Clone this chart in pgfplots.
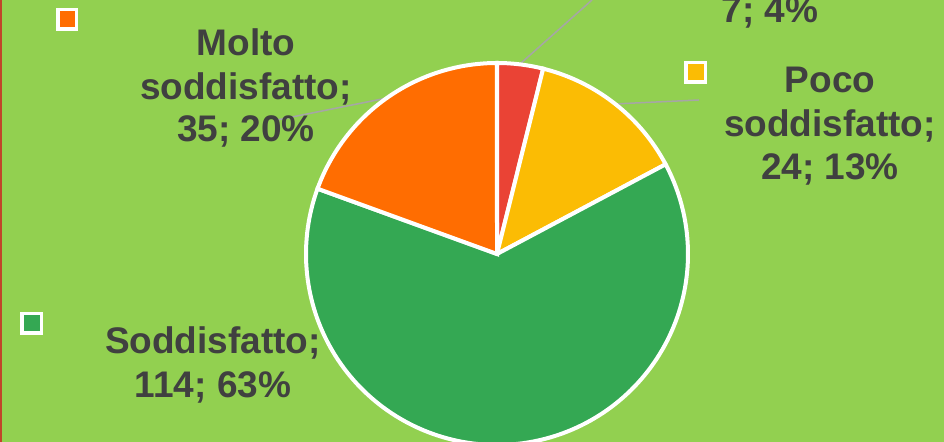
\documentclass[border=0pt]{standalone}
\usepackage{pgfplots}
\pgfplotsset{compat=1.18}
\usepackage{fontspec}
\setmainfont{Liberation Sans}
\definecolor{bggreen}{HTML}{92D050}
\definecolor{sred}{HTML}{EA4335}
\definecolor{syellow}{HTML}{FBBC04}
\definecolor{sgreen}{HTML}{34A853}
\definecolor{sorange}{HTML}{FF6D01}
\definecolor{txt}{HTML}{404040}
\definecolor{leader}{HTML}{A6A6A6}
\definecolor{frame}{HTML}{C0452A}
\tikzset{lbl/.style={font=\fontsize{18.5pt}{22pt}\selectfont\bfseries, text=txt, anchor=base, inner sep=0pt}}
% values
\def\vA{7}\def\vB{24}\def\vC{114}\def\vD{35}
\pgfmathsetmacro\tot{\vA+\vB+\vC+\vD}
\pgfmathsetmacro\aO{90}
\pgfmathsetmacro\aA{\aO-360*(\vA/\tot)}
\pgfmathsetmacro\aB{\aA-360*(\vB/\tot)}
\pgfmathsetmacro\aC{\aB-360*(\vC/\tot)}
\pgfmathsetmacro\aD{\aC-360*(\vD/\tot)}
\begin{document}
\begin{tikzpicture}
\useasboundingbox (0,0) rectangle (472pt,221pt);
\clip (0,0) rectangle (472pt,221pt);
\fill[bggreen] (0,0) rectangle (472pt,221pt);
\begin{axis}[
  at={(0,0)}, anchor=south west,
  width=472pt, height=221pt, scale only axis,
  xmin=-497, xmax=447, ymin=-188, ymax=254,
  hide axis, clip=false,
]
% frame line
\draw[frame, line width=1.1pt] (axis cs:-495.9,-188) -- (axis cs:-495.9,254);
% leader lines
\draw[leader, line width=0.75pt] (axis cs:23,190) -- (axis cs:95,254);
\draw[leader, line width=0.75pt] (axis cs:117,150) -- (axis cs:202,154);
\draw[leader, line width=0.75pt] (axis cs:-220,134) -- (axis cs:-110,156);
% slices
\addplot[fill=sred, draw=white, line width=2pt, domain=\aA:\aO, samples=20, variable=\t]
  ({191*cos(\t)},{191*sin(\t)}) -- (axis cs:0,0) -- cycle;
\addplot[fill=syellow, draw=white, line width=2pt, domain=\aB:\aA, samples=40, variable=\t]
  ({191*cos(\t)},{191*sin(\t)}) -- (axis cs:0,0) -- cycle;
\addplot[fill=sgreen, draw=white, line width=2pt, domain=\aC:\aB, samples=150, variable=\t]
  ({191*cos(\t)},{191*sin(\t)}) -- (axis cs:0,0) -- cycle;
\addplot[fill=sorange, draw=white, line width=2pt, domain=\aD:\aC, samples=50, variable=\t]
  ({191*cos(\t)},{191*sin(\t)}) -- (axis cs:0,0) -- cycle;
% legend keys
\fill[white] (axis cs:-441,246) rectangle (axis cs:-419,223);
\fill[sorange] (axis cs:-437.5,242.5) rectangle (axis cs:-422.5,226.5);
\fill[white] (axis cs:187,193) rectangle (axis cs:210,170);
\fill[syellow] (axis cs:190.5,189.5) rectangle (axis cs:206.5,173.5);
\fill[white] (axis cs:-477,-58) rectangle (axis cs:-454,-81);
\fill[sgreen] (axis cs:-473.5,-61.5) rectangle (axis cs:-457.5,-77.5);
% labels
\node[lbl] at (axis cs:-251,198) {Molto};
\node[lbl] at (axis cs:-251,154) {soddisfatto;};
\node[lbl] at (axis cs:-251,112) {35; 20\%};
\node[lbl] at (axis cs:333,161) {Poco};
\node[lbl] at (axis cs:333,117) {soddisfatto;};
\node[lbl] at (axis cs:333,74) {24; 13\%};
\node[lbl] at (axis cs:273,231) {7; 4\%};
\node[lbl] at (axis cs:-284,-100) {Soddisfatto;};
\node[lbl] at (axis cs:-284,-144) {114; 63\%};
\end{axis}
\end{tikzpicture}
\end{document}
